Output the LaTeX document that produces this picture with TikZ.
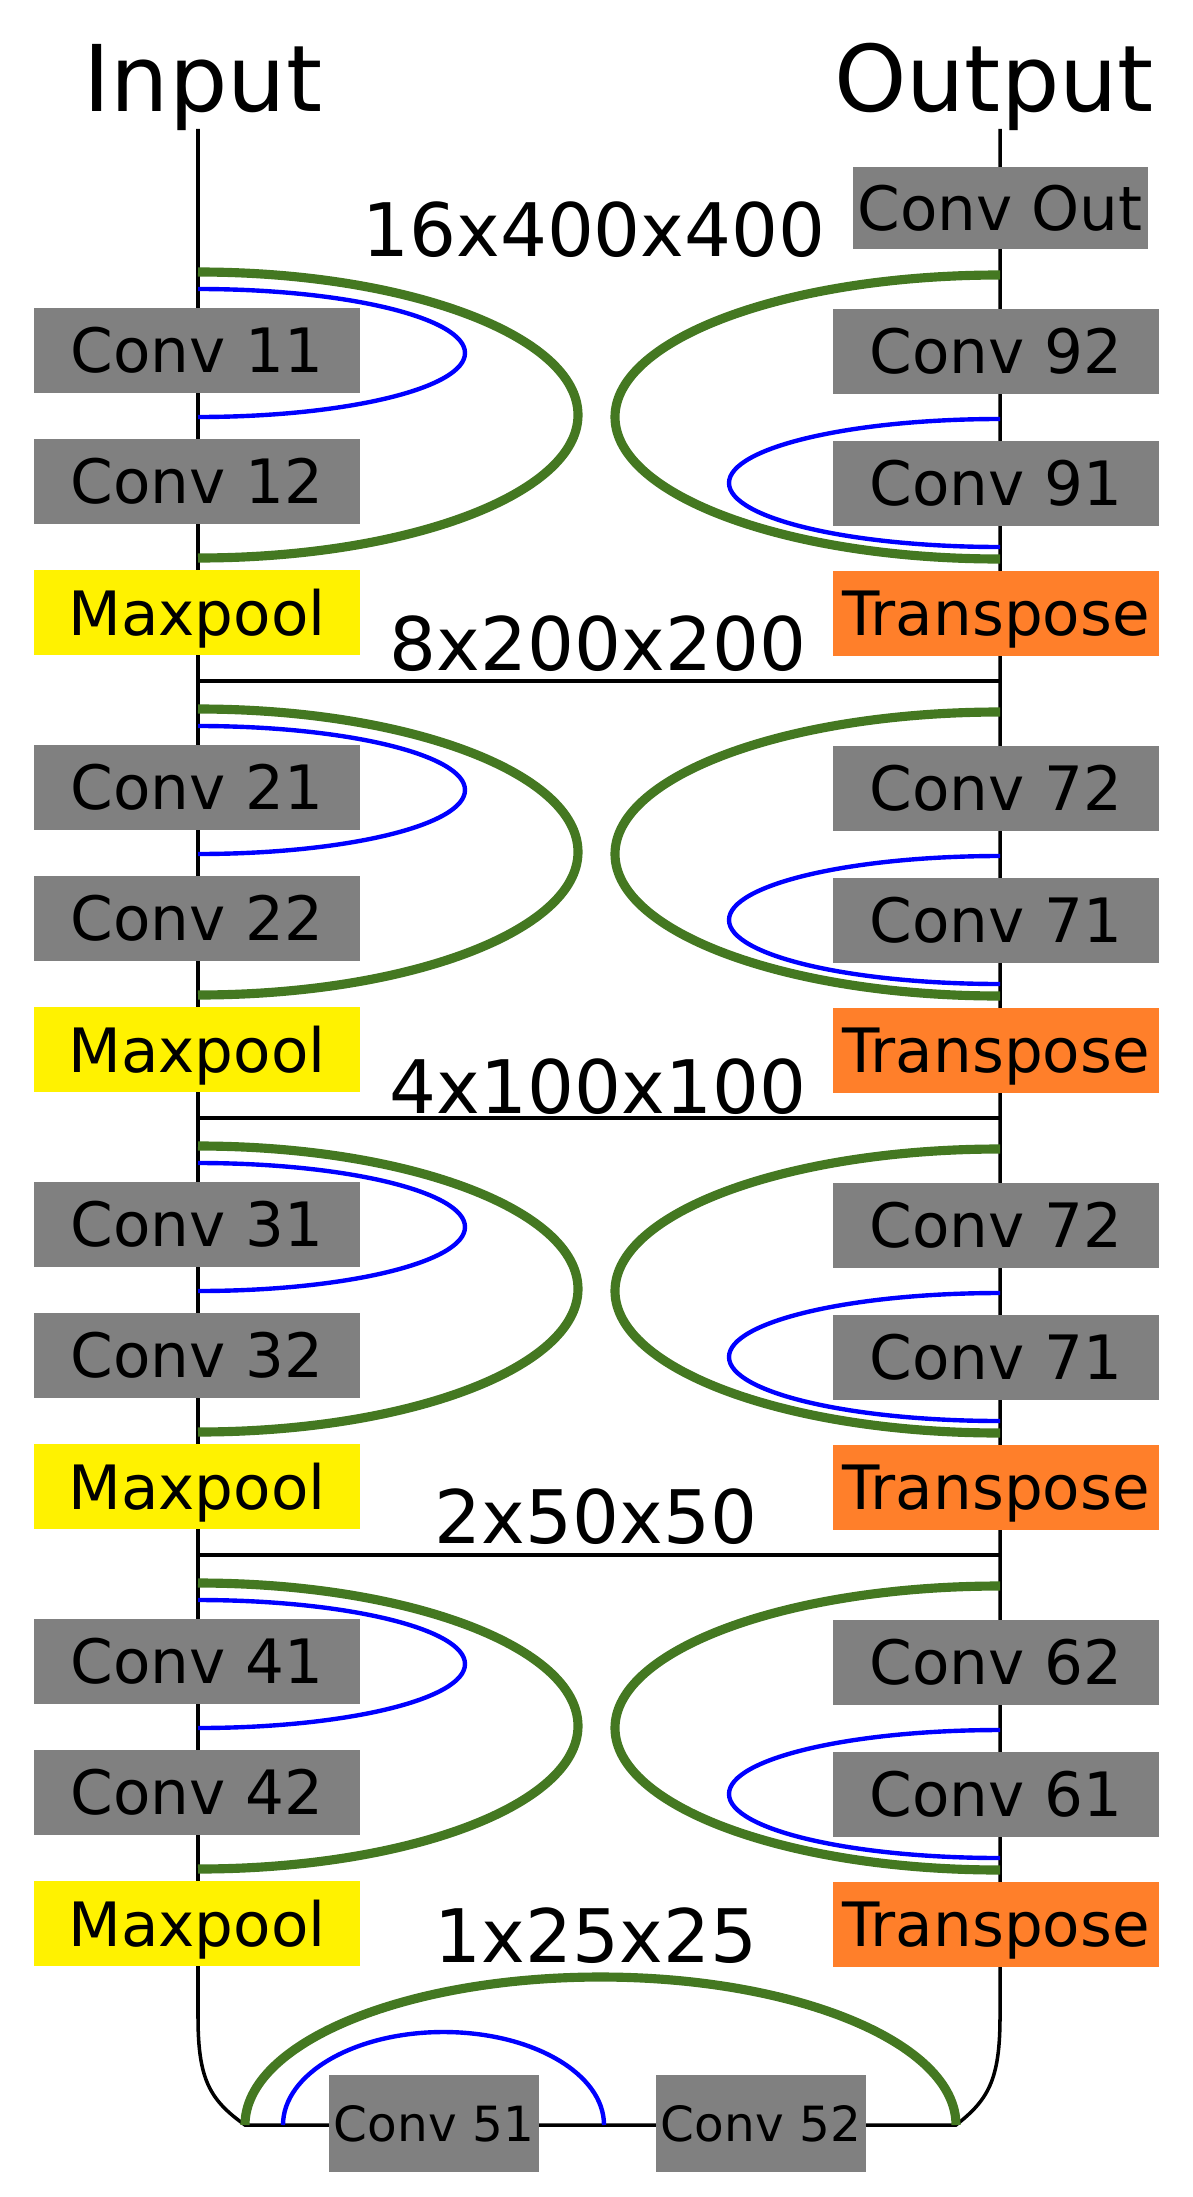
\documentclass[tikz,border=0pt]{standalone}
\usepackage{fontspec}
\setmainfont{DejaVu Sans}
\definecolor{convgray}{RGB}{128,128,128}
\definecolor{skipcol}{RGB}{68,120,33}
\definecolor{transcol}{RGB}{255,127,42}
\tikzset{
	convbox/.style={fill=convgray, minimum width=3.26cm, minimum height=0.85cm, inner sep=0pt, text depth=0pt, font=\fontsize{17.4}{20}\selectfont},
	poolbox/.style={convbox, fill=yellow},
	transbox/.style={convbox, fill=transcol},
	smallbox/.style={convbox, minimum width=2.10cm, minimum height=0.97cm, font=\fontsize{13.8}{16}\selectfont},
	sizelabel/.style={anchor=base, font=\fontsize{21}{25}\selectfont},
	title/.style={anchor=base, font=\fontsize{26.2}{30}\selectfont},
	skipgreen/.style={skipcol, line width=2.6pt},
	skipblue/.style={blue, line width=1.25pt},
	greenL/.style={skipgreen, x radius=3.80, y radius=1.43},
	blueL/.style={skipblue, x radius=2.67, y radius=0.64},
	greenR/.style={skipgreen, x radius=3.85, y radius=1.42},
	blueR/.style={skipblue, x radius=2.71, y radius=0.64}
}
\begin{document}
\begin{tikzpicture}[line width=1pt]
		\useasboundingbox (0,0) rectangle (11.93,-21.97);

		\node[title] (in) at (2.03,-1.12) {Input};
		\node[title] (out) at (9.94,-1.12) {Output};

		\coordinate (inTop) at (1.98,-1.29);
		\coordinate (outTop) at (10.00,-1.29);
		\coordinate (botL) at (2.45,-21.25);
		\coordinate (botR) at (9.56,-21.25);
		\draw (inTop) -- (1.98,-20.17) .. controls (1.98,-20.80) and (2.10,-21.00) .. (botL) -- (botR) .. controls (9.88,-21.00) and (10.00,-20.80) .. (10.00,-20.17) -- (outTop);

		\coordinate (h1l) at (1.98,-6.81);
		\coordinate (h1r) at (10.00,-6.81);
		\coordinate (h2l) at (1.98,-11.18);
		\coordinate (h2r) at (10.00,-11.18);
		\coordinate (h3l) at (1.98,-15.55);
		\coordinate (h3r) at (10.00,-15.55);
		\draw (h1l) -- (h1r);
		\draw (h2l) -- (h2r);
		\draw (h3l) -- (h3r);

		\draw[greenL] (1.98,-2.72) coordinate (g1l) arc[start angle=90, end angle=-90];
		\draw[blueL] (1.98,-2.89) coordinate (b1l) arc[start angle=90, end angle=-90];
		\draw[greenR] (10.00,-2.75) coordinate (g1r) arc[start angle=90, end angle=270];
		\draw[blueR] (10.00,-4.19) coordinate (b1r) arc[start angle=90, end angle=270];

		\draw[greenL] (1.98,-7.09) coordinate (g2l) arc[start angle=90, end angle=-90];
		\draw[blueL] (1.98,-7.26) coordinate (b2l) arc[start angle=90, end angle=-90];
		\draw[greenR] (10.00,-7.12) coordinate (g2r) arc[start angle=90, end angle=270];
		\draw[blueR] (10.00,-8.56) coordinate (b2r) arc[start angle=90, end angle=270];

		\draw[greenL] (1.98,-11.46) coordinate (g3l) arc[start angle=90, end angle=-90];
		\draw[blueL] (1.98,-11.63) coordinate (b3l) arc[start angle=90, end angle=-90];
		\draw[greenR] (10.00,-11.49) coordinate (g3r) arc[start angle=90, end angle=270];
		\draw[blueR] (10.00,-12.93) coordinate (b3r) arc[start angle=90, end angle=270];

		\draw[greenL] (1.98,-15.83) coordinate (g4l) arc[start angle=90, end angle=-90];
		\draw[blueL] (1.98,-16.00) coordinate (b4l) arc[start angle=90, end angle=-90];
		\draw[greenR] (10.00,-15.86) coordinate (g4r) arc[start angle=90, end angle=270];
		\draw[blueR] (10.00,-17.30) coordinate (b4r) arc[start angle=90, end angle=270];

		\draw[skipgreen] (botL) arc[start angle=180, end angle=0, x radius=3.555, y radius=1.48];
		\draw[skipblue] (2.83,-21.25) coordinate (b5) arc[start angle=180, end angle=0, x radius=1.605, y radius=0.93];

		\node[convbox, minimum width=2.95cm, minimum height=0.82cm] (convout) at (10.00,-2.08) {Conv Out};

		\node[convbox] (c11) at (1.97,-3.50) {Conv 11};
		\node[convbox] (c12) at (1.97,-4.81) {Conv 12};
		\node[poolbox] (mp1) at (1.97,-6.12) {Maxpool};
		\node[convbox] (c92) at (9.96,-3.51) {Conv 92};
		\node[convbox] (c91) at (9.96,-4.83) {Conv 91};
		\node[transbox] (tp1) at (9.96,-6.13) {Transpose};

		\node[convbox] (c21) at (1.97,-7.87) {Conv 21};
		\node[convbox] (c22) at (1.97,-9.18) {Conv 22};
		\node[poolbox] (mp2) at (1.97,-10.49) {Maxpool};
		\node[convbox] (c72a) at (9.96,-7.88) {Conv 72};
		\node[convbox] (c71a) at (9.96,-9.20) {Conv 71};
		\node[transbox] (tp2) at (9.96,-10.50) {Transpose};

		\node[convbox] (c31) at (1.97,-12.24) {Conv 31};
		\node[convbox] (c32) at (1.97,-13.55) {Conv 32};
		\node[poolbox] (mp3) at (1.97,-14.86) {Maxpool};
		\node[convbox] (c72b) at (9.96,-12.25) {Conv 72};
		\node[convbox] (c71b) at (9.96,-13.57) {Conv 71};
		\node[transbox] (tp3) at (9.96,-14.87) {Transpose};

		\node[convbox] (c41) at (1.97,-16.61) {Conv 41};
		\node[convbox] (c42) at (1.97,-17.92) {Conv 42};
		\node[poolbox] (mp4) at (1.97,-19.23) {Maxpool};
		\node[convbox] (c62) at (9.96,-16.62) {Conv 62};
		\node[convbox] (c61) at (9.96,-17.94) {Conv 61};
		\node[transbox] (tp4) at (9.96,-19.24) {Transpose};

		\node[smallbox] (c51) at (4.34,-21.23) {Conv 51};
		\node[smallbox] (c52) at (7.61,-21.23) {Conv 52};

		\node[sizelabel] (s1) at (5.94,-2.57) {16x400x400};
		\node[sizelabel] (s2) at (5.98,-6.70) {8x200x200};
		\node[sizelabel] (s3) at (5.98,-11.13) {4x100x100};
		\node[sizelabel] (s4) at (5.96,-15.43) {2x50x50};
		\node[sizelabel] (s5) at (5.96,-19.62) {1x25x25};
	\end{tikzpicture}
\end{document}
